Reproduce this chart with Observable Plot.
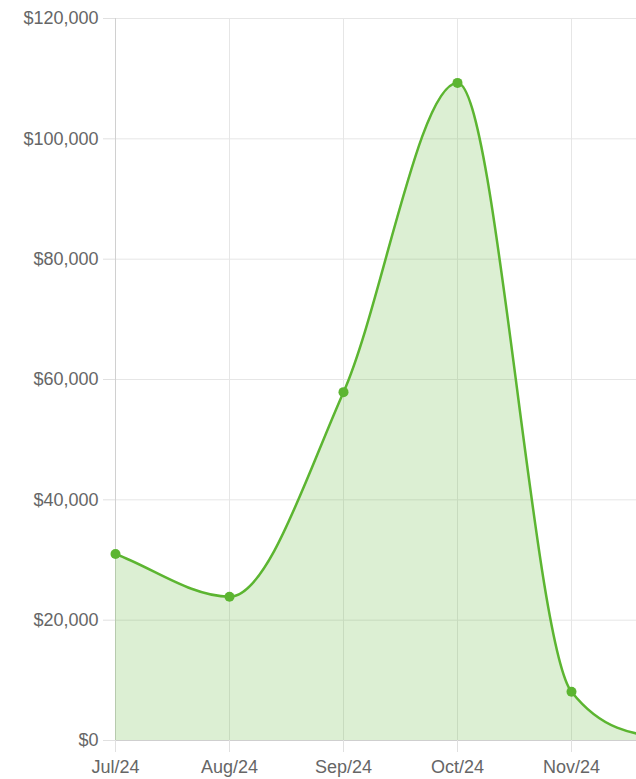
<!DOCTYPE html>
<html>
<head>
<meta charset="utf-8">
<script src="https://cdn.jsdelivr.net/npm/d3@7"></script>
<script src="https://cdn.jsdelivr.net/npm/@observablehq/plot@0.6"></script>
<style>
  html, body { margin: 0; padding: 0; background: #fff; overflow: hidden; }
  #chart svg { display: block; }
</style>
</head>
<body>
<div id="chart"></div>
<script>
const months = ["Jul/24", "Aug/24", "Sep/24", "Oct/24", "Nov/24", "Dec/24"];
const revenue = [31000, 23900, 57900, 109300, 8100, 0];
const yTicks = [0, 20000, 40000, 60000, 80000, 100000, 120000];
const xTickLabels = ["Jul/24", "Aug/24", "Sep/24", "Oct/24", "Nov/24"]; // Dec/24 falls outside the visible frame

const data = months.map((m, i) => ({month: m, value: revenue[i]}));
const green = "#5cb531";
const fmt = d => "$" + d3.format(",")(d);

// Monotone cubic (Fritsch–Carlson) curve, as used by the original chart
function FCCurve(context) { this._context = context; }
FCCurve.prototype = {
  areaStart() { this._line = 0; },
  areaEnd() { this._line = NaN; },
  lineStart() { this._x = []; this._y = []; },
  point(x, y) { this._x.push(+x); this._y.push(+y); },
  lineEnd() {
    const x = this._x, y = this._y, n = x.length, c = this._context;
    if (n) {
      this._line ? c.lineTo(x[0], y[0]) : c.moveTo(x[0], y[0]);
      if (n === 2) c.lineTo(x[1], y[1]);
      else if (n > 2) {
        const d = [], m = [];
        for (let i = 0; i < n - 1; i++) d.push((y[i + 1] - y[i]) / (x[i + 1] - x[i]));
        m[0] = d[0]; m[n - 1] = d[n - 2];
        for (let i = 1; i < n - 1; i++) {
          m[i] = (d[i - 1] === 0 || d[i] === 0 || Math.sign(d[i - 1]) !== Math.sign(d[i])) ? 0 : (d[i - 1] + d[i]) / 2;
        }
        for (let i = 0; i < n - 1; i++) {
          if (d[i] === 0) { m[i] = m[i + 1] = 0; continue; }
          const a = m[i] / d[i], b = m[i + 1] / d[i], s = a * a + b * b;
          if (s > 9) { const t = 3 / Math.sqrt(s); m[i] = a * t * d[i]; m[i + 1] = b * t * d[i]; }
        }
        for (let i = 0; i < n - 1; i++) {
          const dx = (x[i + 1] - x[i]) / 3;
          c.bezierCurveTo(x[i] + dx, y[i] + dx * m[i], x[i + 1] - dx, y[i + 1] - dx * m[i + 1], x[i + 1], y[i + 1]);
        }
      }
    }
    if (this._line || (this._line !== 0 && n === 1)) c.closePath();
    this._line = 1 - this._line;
  }
};
const curveFC = ctx => new FCCurve(ctx);

const chart = Plot.plot({
  width: 636,
  height: 779,
  marginTop: 18,
  marginBottom: 39,
  marginLeft: 115,
  marginRight: 0,
  style: {fontFamily: "'Liberation Sans', Arial, sans-serif", fontSize: "18px", background: "#fff"},
  x: {type: "point", domain: months, range: [115, 685], padding: 0},
  y: {domain: [0, 120000]},
  marks: [
    Plot.gridY(yTicks, {stroke: "#e6e6e6", strokeOpacity: 1}),
    Plot.gridX(xTickLabels, {stroke: "#e6e6e6", strokeOpacity: 1}),
    Plot.ruleX([months[0]], {stroke: "#d0d0d0"}),
    Plot.areaY(data, {x: "month", y: "value", curve: curveFC, fill: green, fillOpacity: 0.21}),
    Plot.ruleY([0], {stroke: "#cfcfcf"}),
    Plot.lineY(data, {x: "month", y: "value", curve: curveFC, stroke: green, strokeWidth: 2.5}),
    Plot.dot(data, {x: "month", y: "value", r: 5, fill: green, stroke: "none"}),
    Plot.axisY(yTicks, {tickSize: 12, tickPadding: 5, tickFormat: fmt, stroke: "#e0e0e0", fill: "#666", fontSize: 18, label: null}),
    Plot.axisX(xTickLabels, {tickSize: 12, tickPadding: 8, stroke: "#e0e0e0", fill: "#666", fontSize: 18, label: null})
  ]
});
document.getElementById("chart").appendChild(chart);
</script>
</body>
</html>
